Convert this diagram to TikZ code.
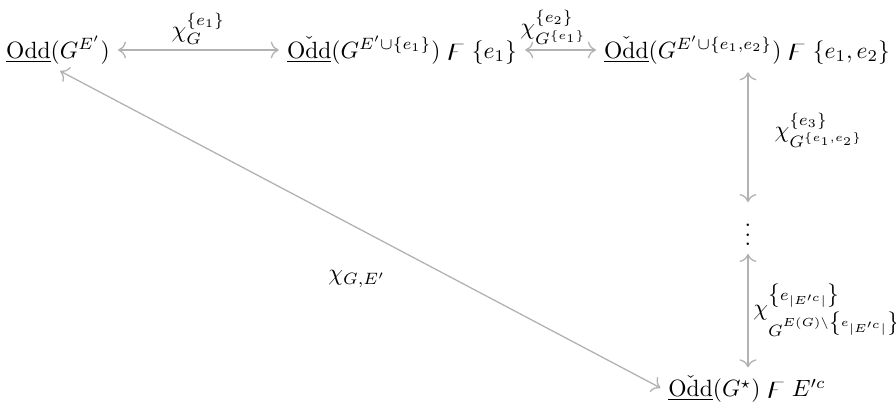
\documentclass[tikz,border=0pt]{standalone}
\usepackage{amsmath,amssymb}
\usetikzlibrary{cd}
\begin{document}
\begin{tikzpicture}[x=0.425pt,y=-0.425pt,
  obj/.style={inner sep=2.5pt, outer sep=0pt},
  conn/.style={draw=black!30, line width=0.55pt, cm to-cm to, shorten <=1pt, shorten >=1pt},
  lbl/.style={inner sep=2pt}]
\useasboundingbox (0,0) rectangle (896,409);
\node[obj] (A) at (58,50) {$\underline{\mathrm{Odd}}(G^{E'})$};
\node[obj] (B) at (402,50) {$\underline{\check{\mathrm{Odd}}}(G^{E'\cup\{e_1\}})\mathrel{\digamma}\{e_1\}$};
\node[obj] (C) at (747,50) {$\underline{\check{\mathrm{Odd}}}(G^{E'\cup\{e_1,e_2\}})\mathrel{\digamma}\{e_1,e_2\}$};
\node[obj] (D) at (748,228) {$\vdots$};
\node[obj] (E) at (747,389) {$\underline{\check{\mathrm{Odd}}}(G^{\star})\mathrel{\digamma}E'^{c}$};
\draw[conn] (A) -- node[lbl, above] {$\chi_G^{\{e_1\}}$} (B);
\draw[conn] (B) -- node[lbl, above, xshift=-3pt] {$\chi_{G^{\{e_1\}}}^{\{e_2\}}$} (C);
\draw[conn] (C.south -| D) -- node[lbl, right=9pt, yshift=3pt] {$\chi_{G^{\{e_1,e_2\}}}^{\{e_3\}}$} (D);
\draw[conn] (D) -- node[lbl, inner sep=0pt, right=2pt] {$\chi^{\left\{e_{|E'^c|}\right\}}_{G^{E(G)\setminus\left\{e_{|E'^c|}\right\}}}$} (E.north -| D);
\draw[conn] (A.south) -- (E.west);
\node[lbl] (L) at (357,279) {$\chi_{G,E'}$};
\end{tikzpicture}
\end{document}
